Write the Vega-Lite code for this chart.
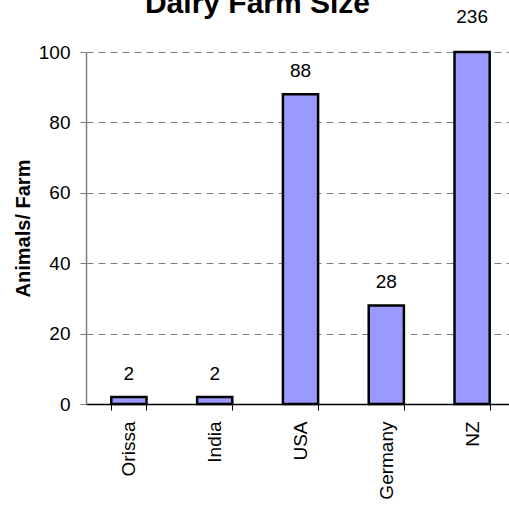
{
  "$schema": "https://vega.github.io/schema/vega-lite/v6.json",
  "autosize": "none",
  "padding": {"left": 86, "top": 52, "right": 0, "bottom": 102},
  "width": 429,
  "height": 352,
  "background": "white",
  "config": {"view": {"stroke": null}, "font": "Liberation Sans"},
  "title": {"text": "Dairy Farm Size", "font": "Liberation Sans", "fontSize": 30, "fontWeight": "bold", "color": "black", "anchor": "middle", "dx": -43, "offset": -35, "baseline": "alphabetic"},
  "data": {"values": [
    {"region": "Orissa", "animals": 2},
    {"region": "India", "animals": 2},
    {"region": "USA", "animals": 88},
    {"region": "Germany", "animals": 28},
    {"region": "NZ", "animals": 236}
  ]},
  "encoding": {
    "x": {"field": "region", "type": "nominal", "sort": null,
      "scale": {"paddingInner": 0.59, "paddingOuter": 0.295},
      "axis": {"title": null, "labelAngle": -90, "labelAlign": "right", "labelBaseline": "middle", "labelFont": "Liberation Sans", "labelFontSize": 19, "labelColor": "black", "labelPadding": 11, "tickBand": "extent", "tickSize": 6, "tickColor": "black", "domainColor": "black", "domainWidth": 1.5}},
    "y": {"field": "animals", "type": "quantitative",
      "scale": {"domain": [0, 100], "clamp": true, "nice": false},
      "axis": {"title": "Animals/ Farm", "titleFont": "Liberation Sans", "titleFontSize": 20, "titleFontWeight": "bold", "titleColor": "black", "titlePadding": 5, "values": [0, 20, 40, 60, 80, 100], "labelFont": "Liberation Sans", "labelFontSize": 19, "labelColor": "black", "labelPadding": 10, "tickSize": 6, "tickColor": "#808080", "domainColor": "#808080", "domainWidth": 1.5, "grid": true, "gridColor": "#808080", "gridDash": [7, 5], "gridWidth": 1}}
  },
  "layer": [
    {"mark": {"type": "bar", "fill": "#9999FF", "stroke": "black", "strokeWidth": 2.5}},
    {"transform": [{"filter": "datum.animals <= 100"}],
     "mark": {"type": "text", "font": "Liberation Sans", "fontSize": 19, "dy": -23, "color": "black"},
     "encoding": {"text": {"field": "animals", "type": "quantitative"}}},
    {"transform": [{"filter": "datum.animals > 100"}],
     "mark": {"type": "text", "font": "Liberation Sans", "fontSize": 19, "dy": -35, "color": "black"},
     "encoding": {"text": {"field": "animals", "type": "quantitative"}}}
  ]
}
